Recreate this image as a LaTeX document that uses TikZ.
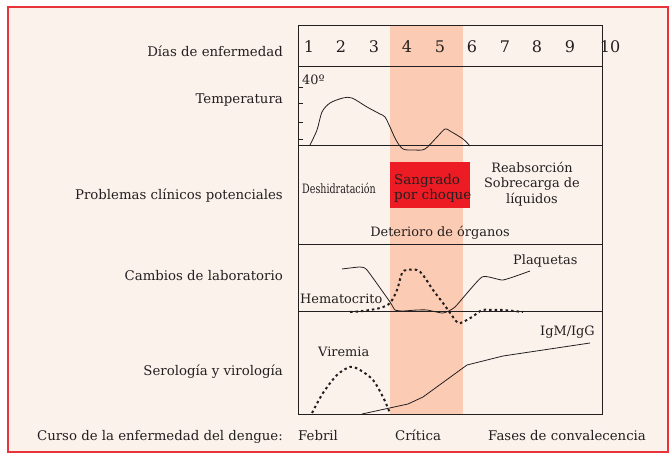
\documentclass[tikz,border=0pt]{standalone}
\usepackage{fontspec}
\setmainfont{DejaVu Serif}
\usepackage{graphicx}
\definecolor{bgc}{HTML}{FBF2EC}
\definecolor{frame}{HTML}{E8333A}
\definecolor{band}{HTML}{FCCBB3}
\definecolor{redbox}{HTML}{ED1C24}
\definecolor{ink}{HTML}{231F20}
\tikzset{
  lbl/.style={inner sep=0pt, anchor=base east, text=ink, font=\fontsize{13.3}{15}\selectfont},
  txt/.style={inner sep=0pt, text=ink, font=\fontsize{12.9}{15}\selectfont},
  daynum/.style={inner sep=0pt, anchor=base, text=ink, font=\fontsize{16}{18}\selectfont},
  gridline/.style={draw=ink, line width=0.8pt},
  solidcurve/.style={draw=ink, line width=0.8pt},
  dotcurve/.style={draw=ink, line width=2pt, dash pattern=on 2.5pt off 3pt},
}
\begin{document}
\begin{tikzpicture}[x=1pt,y=-1pt]
\useasboundingbox (0,0) rectangle (670,457);
\fill[white] (0,0) rectangle (670,457);
\filldraw[fill=bgc, draw=frame, line width=1.6pt] (8,7) rectangle (668,452);
% band
\fill[band] (390,25) rectangle (463,414);
% red box
\node[fill=redbox, inner sep=0pt, minimum width=80pt, minimum height=46pt, anchor=north west] (sang) at (390,162) {};
% grid
\draw[gridline] (298,25) rectangle (602,414);
\draw[gridline] (298,66) -- (602,66);
\draw[gridline] (298,145) -- (602,145);
\draw[gridline] (298,244) -- (602,244);
\draw[gridline] (298,311) -- (602,311);
% temperature ticks
\foreach \yy in {87,103,122,139} \draw[gridline] (298,\yy) -- (303,\yy);
% day numbers
\foreach \n/\xx in {1/309,2/341,3/374,4/407,5/440,6/472,7/505,8/537,9/570,10/610}
  \node[daynum] (d\n) at (\xx,53) {\n};
% left labels
\node[lbl] (ldias) at (283,57) {Días de enfermedad};
\node[lbl] (ltemp) at (283,104) {Temperatura};
\node[lbl] (lprob) at (283,200) {Problemas clínicos potenciales};
\node[lbl] (lcamb) at (283,281) {Cambios de laboratorio};
\node[lbl] (lsero) at (283,376) {Serología y virología};
\node[lbl] (lcurso) at (283,440) {Curso de la enfermedad del dengue:};
% temperature
\node[txt, anchor=base west] (t40) at (302,85) {40º};
\draw[solidcurve] plot[smooth, tension=0.5] coordinates {(310,145) (317,130) (322,112) (330,103) (343,98) (352,98) (367,107) (380,114) (385,117) (390,127) (396,140) (403,149) (414,150) (425,149) (437,137) (445,129) (450,131) (463,139) (470,146)};
% problems
\node[txt, anchor=base west] (desh) at (302,194) {\scalebox{0.74}[1]{Deshidratación}};
\node[txt, anchor=base west, font=\fontsize{13.5}{15}\selectfont] (sangtxt) at (394,185) {Sangrado};
\node[txt, anchor=base west, font=\fontsize{13.5}{15}\selectfont] (chq) at (394,200) {por choque};
\node[txt, anchor=base] (reab1) at (532,173) {Reabsorción};
\node[txt, anchor=base] (reab2) at (532,188) {Sobrecarga de};
\node[txt, anchor=base] (reab3) at (532,204) {líquidos};
\node[txt, anchor=base] (deter) at (440,237) {Deterioro de órganos};
% laboratory
\node[txt, anchor=base west] (plaq) at (513,265) {Plaquetas};
\node[txt, anchor=base west] (hema) at (300,304) {Hematocrito};
\draw[solidcurve] plot[smooth, tension=0.3] coordinates {(342,269) (360,267) (367,270) (390,302) (395,310) (403,311) (417,310) (427,310) (443,313) (455,307) (482,277) (503,280) (530,271)};
\draw[dotcurve] plot[smooth, tension=0.5] coordinates {(350,312) (363,311) (380,308) (390,303) (397,290) (402,273) (407,270) (417,270) (423,275) (433,290) (443,303) (453,317) (458,323) (463,322) (472,317) (482,310) (490,310) (503,310) (523,312)};
% serology
\node[txt, anchor=base west] (igm) at (540,335) {IgM/IgG};
\node[txt, anchor=base west] (vir) at (318,356) {Viremia};
\draw[dotcurve] plot[smooth, tension=0.5] coordinates {(312,413) (323,393) (337,375) (350,367) (360,370) (373,380) (383,397) (390,413)};
\draw[solidcurve] (362,414) -- (408,404) -- (423,397) -- (467,365) -- (503,356) -- (590,343);
% bottom labels
\node[lbl, anchor=base west] (feb) at (298,440) {Febril};
\node[lbl, anchor=base west] (crit) at (395,440) {Crítica};
\node[lbl, anchor=base west] (fases) at (488,440) {Fases de convalecencia};
\end{tikzpicture}
\end{document}
